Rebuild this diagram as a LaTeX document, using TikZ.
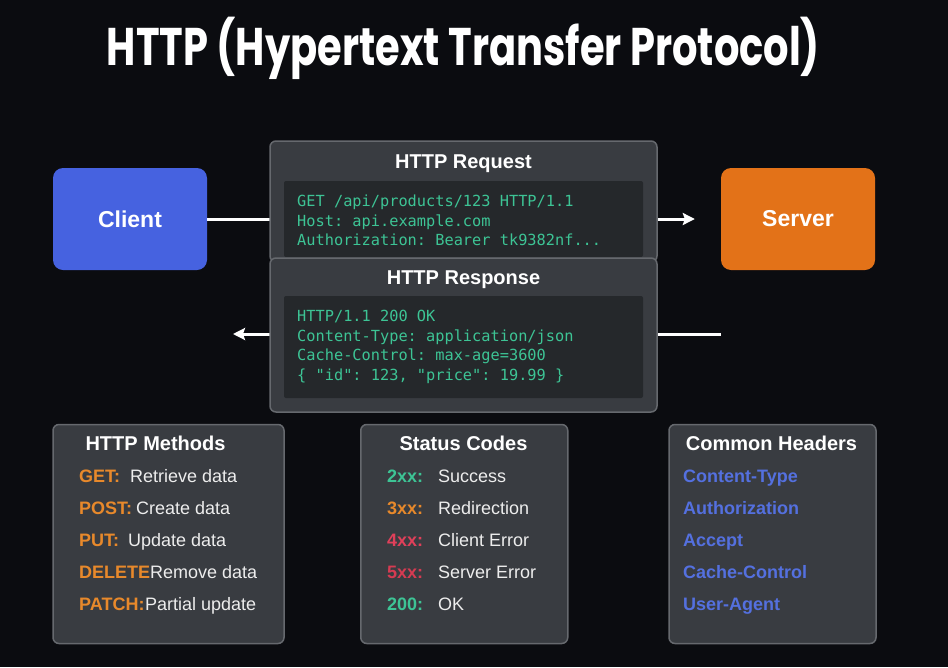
\documentclass[tikz,border=0pt]{standalone}
\usepackage{fontspec}
\usepackage{graphicx}
\setmainfont{Liberation Sans}
\setmonofont{DejaVu Sans Mono}
\newfontfamily\titlefont{Poppins}
\usetikzlibrary{arrows.meta}
\definecolor{bg}{HTML}{0B0C10}
\definecolor{clientblue}{HTML}{4662E0}
\definecolor{serverorange}{HTML}{E37218}
\definecolor{panelfill}{HTML}{393C41}
\definecolor{panelborder}{HTML}{66696E}
\definecolor{codefill}{HTML}{25282B}
\definecolor{codegreen}{HTML}{3DC495}
\definecolor{methorange}{HTML}{E8892B}
\definecolor{hdrblue}{HTML}{5470DF}
\definecolor{redfour}{HTML}{E0405A}
\definecolor{redfive}{HTML}{D63B52}
\definecolor{txtlight}{HTML}{EDEDED}
\tikzset{
  endbox/.style={rounded corners=10pt, inner sep=0pt, text=white,
    font=\fontsize{23}{26}\selectfont\bfseries, minimum width=154pt, minimum height=102pt},
  panel/.style={draw=panelborder, line width=1.5pt, fill=panelfill, rounded corners=6pt, inner sep=0pt},
  codebox/.style={fill=codefill, rounded corners=2pt, inner sep=0pt},
  ptitle/.style={anchor=base, text=white, font=\fontsize{20}{24}\selectfont\bfseries, inner sep=0pt},
  codeline/.style={anchor=base west, text=codegreen, font=\fontsize{15.3}{18}\selectfont\ttfamily, inner sep=0pt},
  lbl/.style={anchor=base west, font=\fontsize{18}{21}\selectfont\bfseries, inner sep=0pt},
  desc/.style={anchor=base west, text=txtlight, font=\fontsize{18}{21}\selectfont, inner sep=0pt},
  flow/.style={draw=white, line width=3pt, -{Stealth[length=12pt,width=12pt,inset=2pt]}},
  plain/.style={draw=white, line width=3pt}
}
\begin{document}
\begin{tikzpicture}[x=1pt,y=-1pt]
\fill[bg] (0,0) rectangle (948,667);
% title
\node[anchor=base, text=white, inner sep=0pt] (title) at (463.5,65)
  {\resizebox{713pt}{\height}{\titlefont\fontsize{53}{60}\selectfont\bfseries HTTP (Hypertext Transfer Protocol)}};
% endpoints
\node[endbox, fill=clientblue] (client) at (130,219) {Client};
\node[endbox, fill=serverorange] (server) at (798,219) {Server};
% connectors (behind the message panels)
\draw[flow, shorten >=26pt] (client.east) -- (server.west);
\coordinate (rs) at (721,334);
\coordinate (rc) at (233,334);
\draw[flow] (rs) -- (rc);
% request panel
\node[panel, minimum width=387pt, minimum height=121pt] (req) at (463.5,201.5) {};
\node[ptitle] (reqtitle) at (463.5,168) {HTTP Request};
\node[codebox, minimum width=359pt, minimum height=76pt] (reqcode) at (463.5,219) {};
\node[codeline] (rq1) at (297,206.5) {GET /api/products/123 HTTP/1.1};
\node[codeline] (rq2) at (297,226) {Host: api.example.com};
\node[codeline] (rq3) at (297,245.5) {Authorization: Bearer tk9382nf...};
% response panel
\node[panel, minimum width=387pt, minimum height=154pt] (resp) at (463.5,335) {};
\node[ptitle] (resptitle) at (463.5,284) {HTTP Response};
\node[codebox, minimum width=359pt, minimum height=102pt] (respcode) at (463.5,347) {};
\node[codeline] (rp1) at (297,321.5) {HTTP/1.1 200 OK};
\node[codeline] (rp2) at (297,341) {Content-Type: application/json};
\node[codeline] (rp3) at (297,360.5) {Cache-Control: max-age=3600};
\node[codeline] (rp4) at (297,380) {\{ "id": 123, "price": 19.99 \}};
% methods panel
\node[panel, minimum width=231pt, minimum height=219pt] (meth) at (168.5,534) {};
\node[ptitle] (methtitle) at (155.5,450) {HTTP Methods};
\node[lbl, text=methorange] (m1) at (79,482.5) {GET:};
\node[desc] (d1) at (130,482.5) {Retrieve data};
\node[lbl, text=methorange] (m2) at (79,514.5) {POST:};
\node[desc] (d2) at (136,514.5) {Create data};
\node[lbl, text=methorange] (m3) at (79,546.5) {PUT:};
\node[desc] (d3) at (128,546.5) {Update data};
\node[lbl, text=methorange] (m4) at (79,578.5) {DELETE};
\node[desc] (d4) at (150,578.5) {Remove data};
\node[lbl, text=methorange] (m5) at (79,610.5) {PATCH:};
\node[desc] (d5) at (145,610.5) {Partial update};
% status panel
\node[panel, minimum width=207pt, minimum height=219pt] (stat) at (464.25,534) {};
\node[ptitle] (stattitle) at (463.5,450) {Status Codes};
\node[lbl, text=codegreen] (s1) at (387,482.5) {2xx:};
\node[desc] (t1) at (438,482.5) {Success};
\node[lbl, text=methorange] (s2) at (387,514.5) {3xx:};
\node[desc] (t2) at (438,514.5) {Redirection};
\node[lbl, text=redfour] (s3) at (387,546.5) {4xx:};
\node[desc] (t3) at (438,546.5) {Client Error};
\node[lbl, text=redfive] (s4) at (387,578.5) {5xx:};
\node[desc] (t4) at (438,578.5) {Server Error};
\node[lbl, text=codegreen] (s5) at (387,610.5) {200:};
\node[desc] (t5) at (438,610.5) {OK};
% headers panel
\node[panel, minimum width=207pt, minimum height=219pt] (hdr) at (772.5,534) {};
\node[ptitle] (hdrtitle) at (771.5,450) {Common Headers};
\node[lbl, text=hdrblue] (h1) at (683,482.5) {Content-Type};
\node[lbl, text=hdrblue] (h2) at (683,514.5) {Authorization};
\node[lbl, text=hdrblue] (h3) at (683,546.5) {Accept};
\node[lbl, text=hdrblue] (h4) at (683,578.5) {Cache-Control};
\node[lbl, text=hdrblue] (h5) at (683,610.5) {User-Agent};
\end{tikzpicture}
\end{document}
